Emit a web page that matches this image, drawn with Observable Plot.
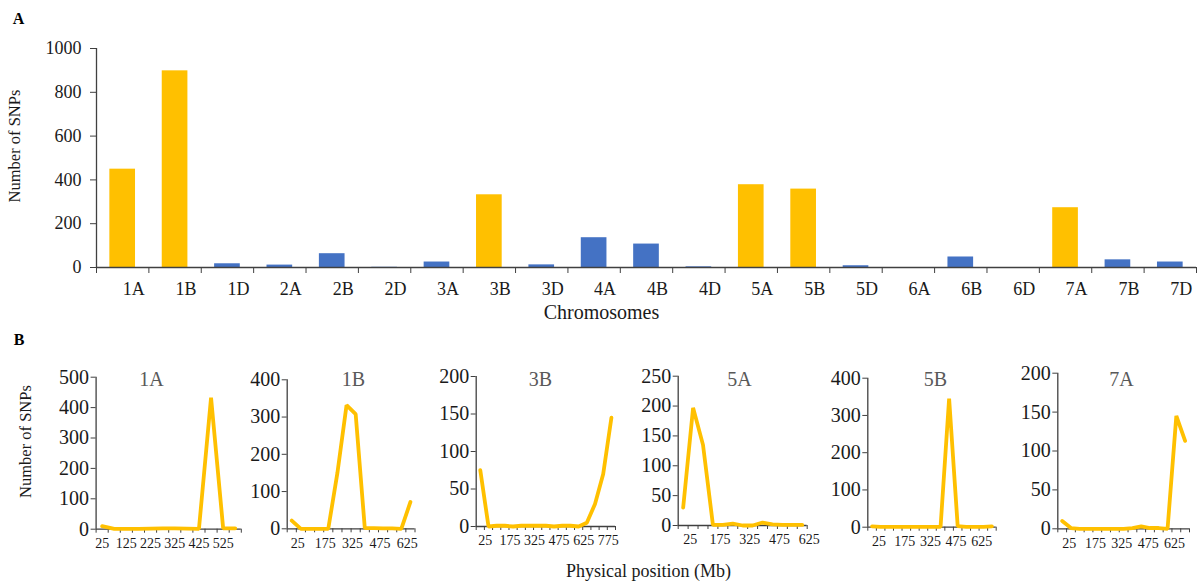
<!DOCTYPE html>
<html><head><meta charset="utf-8">
<script src="https://cdn.jsdelivr.net/npm/d3@7"></script>
<script src="https://cdn.jsdelivr.net/npm/@observablehq/plot@0.6"></script>
<style>
body{margin:0;background:#fff;}
#root{position:relative;width:1204px;height:588px;overflow:hidden;background:#fff;font-family:"Liberation Serif","Times New Roman",serif;}
#root svg{position:absolute;left:0;top:0;overflow:visible;}
#root svg, #root svg text, #root svg g{font-family:"Liberation Serif","Times New Roman",serif !important;}
</style></head><body><div id="root"></div>
<script>
// ---------- Data: panel A ----------
const chromosomes = ["1A","1B","1D","2A","2B","2D","3A","3B","3D","4A","4B","4D","5A","5B","5D","6A","6B","6D","7A","7B","7D"];
const snpCounts   = [449, 898, 17, 11, 63, 1, 25, 332, 12, 136, 107, 3, 378, 358, 8, 0, 48, 0, 273, 35, 25];
const highlighted = ["1A","1B","3B","5A","5B","7A"];
const yTicksA     = [0, 200, 400, 600, 800, 1000];

// ---------- Data: panel B ----------
const pos1A = [25,75,125,175,225,275,325,375,425,475,525,575];
const snp1A = [10,1,1,1,2,3,3,2,1,433,3,3];
const lab1A = [25,125,225,325,425,525];
const yt1A  = [0,100,200,300,400,500];

const pos1B = [25,75,125,175,225,275,325,375,425,475,525,575,625,675];
const snp1B = [22,0,0,0,0,150,332,308,2,2,1,1,0,72];
const lab1B = [25,175,325,475,625];
const yt1B  = [0,100,200,300,400];

const pos3B = [25,75,125,175,225,275,325,375,425,475,525,575,625,675,725,775,825];
const snp3B = [75,0,1,1,0,1,1,1,1,0,1,1,0,5,30,70,145];
const lab3B = [25,175,325,475,625,775];
const yt3B  = [0,50,100,150,200];

const pos5A = [25,75,125,175,225,275,325,375,425,475,525,575,625];
const snp5A = [30,197,135,1,1,3,0,0,5,2,1,1,1];
const lab5A = [25,175,325,475,625];
const yt5A  = [0,50,100,150,200,250];

const pos5B = [25,75,125,175,225,275,325,375,425,475,525,575,625,675,725];
const snp5B = [2,1,1,1,1,1,1,1,1,345,3,1,1,1,2];
const lab5B = [25,175,325,475,625];
const yt5B  = [0,100,200,300,400];

const pos7A = [25,75,125,175,225,275,325,375,425,475,525,575,625,675,725];
const snp7A = [10,1,0,0,0,0,0,0,1,3,1,1,0,145,113];
const lab7A = [25,175,325,475,625];
const yt7A  = [0,50,100,150,200];

// ---------- Styles / layout ----------
const YELLOW = "#FFC000", BLUE = "#4472C4", AXIS = "#404040", TEXT = "#1a1a1a", TITLE = "#595959";
const FONT = "Liberation Serif";
const W = 1204, H = 588;
const root = document.getElementById("root");
const baseStyle = {fontFamily: FONT, fontSize: "16px", color: TEXT, background: "transparent", overflow: "visible"};
const fmt = d => String(d);

function add(svg){ svg.style.position="absolute"; svg.style.left="0px"; svg.style.top="0px"; root.appendChild(svg); }

// ---------- Panel A ----------
const bars = chromosomes.map((c,i)=>({i, c, n: snpCounts[i], hi: highlighted.includes(c)}));
const nA = chromosomes.length;
add(Plot.plot({
  width: W, height: H,
  marginLeft: 96, marginRight: 8, marginTop: 48, marginBottom: H - 267,
  x: {type: "linear", domain: [0, nA]},
  y: {domain: [0, 1000]},
  color: {type: "identity"},
  style: baseStyle,
  marks: [
    Plot.rectY(bars, {x1: d=>d.i+0.255, x2: d=>d.i+0.745, y: "n", fill: d=>d.hi?YELLOW:BLUE}),
    Plot.axisY({ticks: yTicksA, tickSize: 6, tickPadding: 9, fontSize: 18, label: null, stroke: AXIS, tickFormat: fmt}),
    Plot.axisX({ticks: d3.range(nA+1), tickSize: 6, tickFormat: ()=>"", label: null, stroke: AXIS}),
    Plot.axisX({ticks: chromosomes.map((c,i)=>i+0.5), tickSize: 0, tickPadding: 15, dx: 11, fontSize: 18,
                tickFormat: t=>chromosomes[Math.floor(t)], label: null}),
    Plot.ruleY([0], {stroke: AXIS, strokeWidth: 1.3}),
    Plot.ruleX([0], {stroke: AXIS, strokeWidth: 1.3}),
    Plot.text(["Chromosomes"], {frameAnchor: "bottom", textAnchor: "middle", lineAnchor: "middle", dx: -45, dy: 45, fontSize: 20, fill: TEXT}),
    Plot.text(["Number of SNPs"], {frameAnchor: "left", textAnchor: "middle", lineAnchor: "middle", rotate: -90, dx: -82, dy: -12, fontSize: 16.5, fill: TEXT}),
    Plot.text(["A"], {frameAnchor: "top-left", textAnchor: "middle", lineAnchor: "middle", dx: -78, dy: -30, fontSize: 16, fontWeight: "bold", fill: "#000"})
  ]
}));

// ---------- Panel B ----------
const panels = [
  {title: "1A", pos: pos1A, v: snp1A, lab: lab1A, yt: yt1A, left: 95.6, right: 240.8, top: 376.7, zero: 528.7, labelDx: 0, titleX: 151},
  {title: "1B", pos: pos1B, v: snp1B, lab: lab1B, yt: yt1B, left: 286.7, right: 414.5, top: 379.3, zero: 528.3, labelDx: 6, titleX: 353},
  {title: "3B", pos: pos3B, v: snp3B, lab: lab3B, yt: yt3B, left: 475.7, right: 615, top: 376, zero: 526, labelDx: 5, titleX: 540},
  {title: "5A", pos: pos5A, v: snp5A, lab: lab5A, yt: yt5A, left: 677.7, right: 806.7, top: 375.7, zero: 525, labelDx: 7, titleX: 739},
  {title: "5B", pos: pos5B, v: snp5B, lab: lab5B, yt: yt5B, left: 867.3, right: 995.7, top: 377.7, zero: 526.7, labelDx: 7, titleX: 935},
  {title: "7A", pos: pos7A, v: snp7A, lab: lab7A, yt: yt7A, left: 1057.3, right: 1189, top: 372.7, zero: 528.3, labelDx: 7, titleX: 1121}
];

panels.forEach((p, k) => {
  const n = p.pos.length;
  const data = p.pos.map((pos,i)=>({i, pos, v: p.v[i]}));
  const extra = k === 0 ? [
    Plot.text(["Number of SNPs"], {frameAnchor: "left", textAnchor: "middle", lineAnchor: "middle", rotate: -90,
      dx: 25 - p.left, dy: 441 - (p.top + p.zero)/2, fontSize: 16.5, fill: TEXT}),
    Plot.text(["B"], {frameAnchor: "top-left", textAnchor: "middle", lineAnchor: "middle", dx: 18.5 - p.left, dy: 339 - p.top,
      fontSize: 16, fontWeight: "bold", fill: "#000"}),
    Plot.text(["Physical position (Mb)"], {frameAnchor: "bottom-left", textAnchor: "middle", lineAnchor: "middle",
      dx: 648 - p.left, dy: 571 - p.zero, fontSize: 18, fill: TEXT})
  ] : [];
  add(Plot.plot({
    width: W, height: H,
    marginLeft: p.left, marginRight: W - p.right, marginTop: p.top, marginBottom: H - p.zero,
    x: {type: "linear", domain: [0, n]},
    y: {domain: [0, p.yt[p.yt.length-1]]},
    style: baseStyle,
    marks: [
      Plot.axisY({ticks: p.yt, tickSize: 5, tickPadding: 2, fontSize: 20, label: null, stroke: AXIS, tickFormat: fmt}),
      Plot.axisX({ticks: d3.range(n+1), tickSize: 4, tickFormat: ()=>"", label: null, stroke: AXIS}),
      Plot.axisX({ticks: p.lab.map(l=>p.pos.indexOf(l)+0.5), tickSize: 0, tickPadding: 9, dx: p.labelDx, fontSize: 14,
                  tickFormat: t=>String(p.pos[Math.floor(t)]), label: null}),
      Plot.ruleY([0], {stroke: AXIS, strokeWidth: 1.3}),
      Plot.ruleX([0], {stroke: AXIS, strokeWidth: 1.3}),
      Plot.line(data, {x: d=>d.i+0.5, y: "v", stroke: YELLOW, strokeWidth: 3.8, strokeLinejoin: "miter"}),
      Plot.text([p.title], {frameAnchor: "top", textAnchor: "middle", lineAnchor: "middle",
        dx: p.titleX - (p.left + p.right)/2, dy: 379 - p.top, fontSize: 20, fill: TITLE}),
      ...extra
    ]
  }));
});
</script></body></html>
